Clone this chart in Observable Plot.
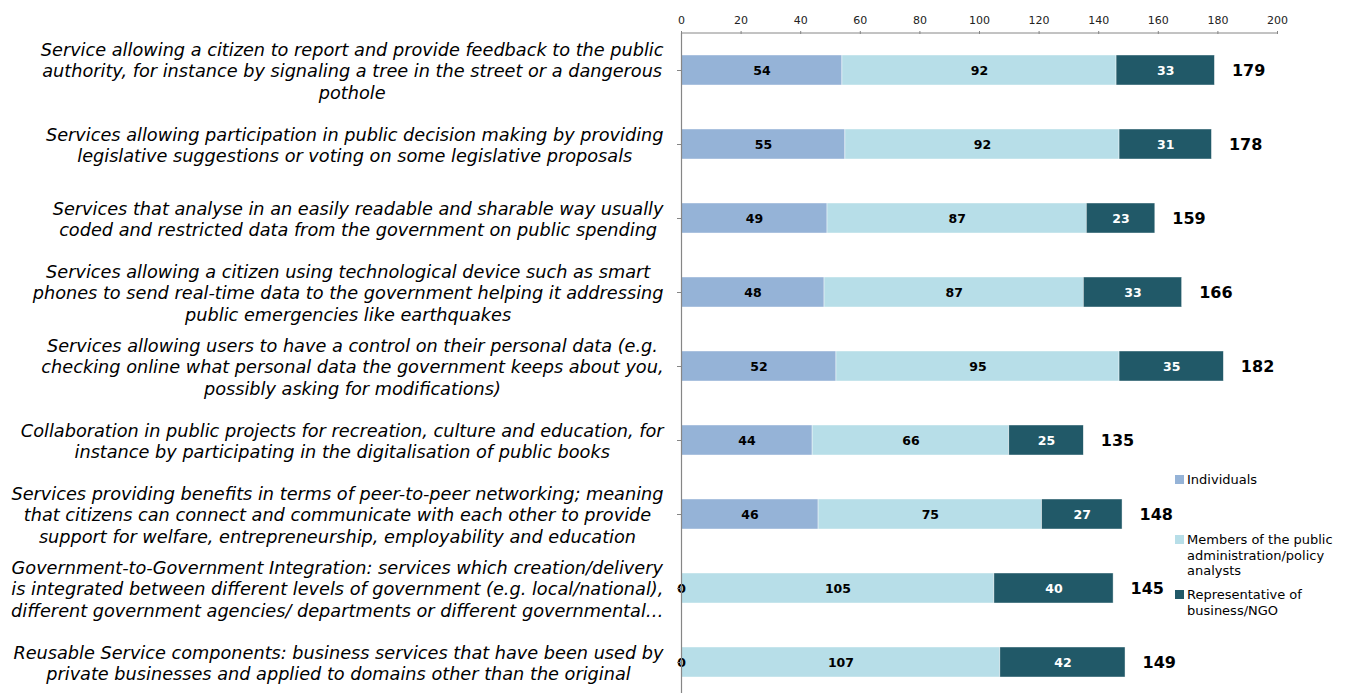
<!DOCTYPE html>
<html><head><meta charset="utf-8">
<script src="https://cdn.jsdelivr.net/npm/d3@7"></script>
<script src="https://cdn.jsdelivr.net/npm/@observablehq/plot@0.6"></script>
<style>
html,body{margin:0;padding:0;background:#fff;overflow:hidden;}
#wrap{position:relative;width:1347px;height:693px;overflow:hidden;}
#legend{position:absolute;left:0;top:0;width:1347px;font-family:"DejaVu Sans",sans-serif;font-size:13px;color:#000;line-height:15.5px;}
.item{position:absolute;left:1175px;display:flex;align-items:flex-start;white-space:nowrap;}
.sw{width:9px;height:9px;margin-top:3px;margin-right:3px;flex:none;}
</style>
</head><body>
<div id="wrap"><div id="chart"></div><div id="legend"></div></div>
<script>
const categories = [
  "Service allowing a citizen to report and provide feedback to the public\nauthority, for instance by signaling a tree in the street or a dangerous\npothole",
  "Services allowing participation in public decision making by providing\nlegislative suggestions or voting on some legislative proposals",
  "Services that analyse in an easily readable and sharable way usually\ncoded and restricted data from the government on public spending",
  "Services allowing a citizen using technological device such as smart\nphones to send real-time data to the government helping it addressing\npublic emergencies like earthquakes",
  "Services allowing users to have a control on their personal data (e.g.\nchecking online what personal data the government keeps about you,\npossibly asking for modifications)",
  "Collaboration in public projects for recreation, culture and education, for\ninstance by participating in the digitalisation of public books",
  "Services providing benefits in terms of peer-to-peer networking; meaning\nthat citizens can connect and communicate with each other to provide\nsupport for welfare, entrepreneurship, employability and education",
  "Government-to-Government Integration: services which creation/delivery\nis integrated between different levels of government (e.g. local/national),\ndifferent government agencies/ departments or different governmental…",
  "Reusable Service components: business services that have been used by\nprivate businesses and applied to domains other than the original"
];
const individuals = [54, 55, 49, 48, 52, 44, 46, 0, 0];
const members = [92, 92, 87, 87, 95, 66, 75, 105, 107];
const representatives = [33, 31, 23, 33, 35, 25, 27, 40, 42];
const totals = [179, 178, 159, 166, 182, 135, 148, 145, 149];
const seriesNames = ["Individuals", "Members of the public\nadministration/policy\nanalysts", "Representative of\nbusiness/NGO"];
const seriesColors = ["#95B3D7", "#B7DEE8", "#215968"];
const xTicks = [0, 20, 40, 60, 80, 100, 120, 140, 160, 180, 200];

const seriesValues = [individuals, members, representatives];
const data = [];
categories.forEach((c, i) => {
  seriesValues.forEach((vals, s) => {
    data.push({category: c, series: seriesNames[s], s, value: vals[i]});
  });
});
const totalData = categories.map((c, i) => ({
  category: c,
  end: individuals[i] + members[i] + representatives[i],
  label: totals[i]
}));

const FONT = '"DejaVu Sans", Verdana, sans-serif';
const labelSize = 17.7;
const ctx = document.createElement("canvas").getContext("2d");
ctx.font = `italic ${labelSize}px ${FONT}`;
const labelWidths = categories.map(c => d3.max(c.split("\n"), l => ctx.measureText(l).width));

const labelMarks = categories.map((c, i) =>
  Plot.text([c], {
    y: d => d, text: d => d, frameAnchor: "left", textAnchor: "middle",
    dx: -(18 + labelWidths[i] / 2), fontStyle: "italic", fontSize: labelSize,
    lineHeight: 21.5 / labelSize, fill: "#000"
  })
);

const gray = "#868686";
const chart = Plot.plot({
  width: 1347,
  height: 699,
  marginLeft: 681,
  marginRight: 70,
  marginTop: 33,
  marginBottom: 0,
  style: {fontFamily: FONT, background: "#fff", overflow: "visible"},
  x: {domain: [0, 200], axis: null},
  y: {domain: categories, paddingInner: 0.6, paddingOuter: 0.3, axis: null},
  color: {domain: seriesNames, range: seriesColors},
  marks: [
    Plot.barX(data, Plot.stackX({x: "value", y: "category", fill: "series", stroke: "#fff", strokeWidth: 0.6, strokeOpacity: 0.7})),
    Plot.text(data, Plot.stackX({x: "value", y: "category", text: d => d.s === 2 ? "" : String(d.value), fill: "#000", fontWeight: "bold", fontSize: 12.5})),
    Plot.text(data, Plot.stackX({x: "value", y: "category", text: d => d.s === 2 ? String(d.value) : "", fill: "#fff", fontWeight: "bold", fontSize: 12.5})),
    Plot.text(totalData, {x: "end", y: "category", text: d => String(d.label), textAnchor: "start", dx: 17, fontWeight: "bold", fontSize: 16, fill: "#000"}),
    Plot.ruleX([0], {stroke: gray, strokeWidth: 1.2}),
    Plot.axisX({anchor: "top", ticks: xTicks, tickSize: 3, tickPadding: 7, fontSize: 11, stroke: gray, fill: "#222", label: null}),
    Plot.axisY({anchor: "left", tickSize: 4, tickFormat: () => "", stroke: gray, label: null}),
    (index, scales, values, dims) => {
      const line = document.createElementNS("http://www.w3.org/2000/svg", "line");
      line.setAttribute("x1", scales.x(0));
      line.setAttribute("x2", scales.x(200));
      line.setAttribute("y1", dims.marginTop);
      line.setAttribute("y2", dims.marginTop);
      line.setAttribute("stroke", gray);
      line.setAttribute("stroke-width", 1);
      return line;
    },
    ...labelMarks
  ]
});
document.getElementById("chart").appendChild(chart);

const legendTops = [472, 532, 587];
const legend = document.getElementById("legend");
seriesNames.forEach((name, i) => {
  const item = document.createElement("div");
  item.className = "item";
  item.style.top = legendTops[i] + "px";
  const sw = document.createElement("div");
  sw.className = "sw";
  sw.style.background = seriesColors[i];
  const tx = document.createElement("div");
  tx.innerHTML = name.split("\n").join("<br>");
  item.appendChild(sw);
  item.appendChild(tx);
  legend.appendChild(item);
});
</script>
</body></html>
